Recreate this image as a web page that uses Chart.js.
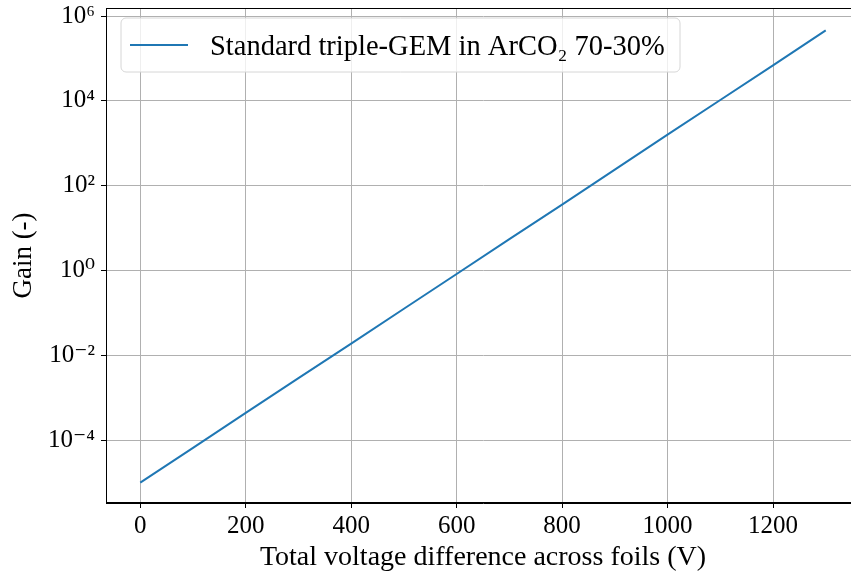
<!DOCTYPE html>
<html>
<head>
<meta charset="utf-8">
<script src="https://cdn.jsdelivr.net/npm/chart.js@4/dist/chart.umd.min.js"></script>
<style>
html,body{margin:0;padding:0;background:#fff;overflow:hidden;width:851px;height:574px;}
#wrap{width:861px;height:574px;position:relative;}
</style>
</head>
<body>
<div id="wrap"><canvas id="c" width="861" height="574"></canvas></div>
<script>
// Data
const voltages = [0, 100, 200, 300, 400, 500, 600, 700, 800, 900, 1000, 1100, 1200, 1300];
const gain = [1.0e-5, 6.6e-5, 4.4e-4, 2.9e-3, 1.9e-2, 0.126, 0.83, 5.5, 36, 240, 1.6e3, 1.05e4, 6.9e4, 4.6e5];
const seriesLabel = 'Standard triple-GEM in ArCO\u2082 70-30%';
const xTickValues = [0, 200, 400, 600, 800, 1000, 1200];
const yTickValues = [1e-4, 1e-2, 1e0, 1e2, 1e4, 1e6];
const yTickLabels = ['10\u207B\u2074', '10\u207B\u00B2', '10\u2070', '10\u00B2', '10\u2074', '10\u2076'];
const xTitle = 'Total voltage difference across foils (V)';
const yTitle = 'Gain (-)';

const FONT = '"Liberation Serif", "DejaVu Serif", serif';
const LINE_COLOR = '#1f77b4';

const framePlugin = {
  id: 'frame',
  afterDraw(chart) {
    const {ctx, chartArea: a} = chart;
    ctx.save();
    ctx.strokeStyle = '#000';
    ctx.lineWidth = 1;
    ctx.strokeRect(a.left + 0.5, a.top + 0.5, a.right - a.left - 1, a.bottom - a.top - 1);
    // legend
    const x0 = a.left + 15, y0 = a.top + 10, w = 559, h = 54, r = 5;
    ctx.beginPath();
    ctx.moveTo(x0 + r, y0);
    ctx.arcTo(x0 + w, y0, x0 + w, y0 + h, r);
    ctx.arcTo(x0 + w, y0 + h, x0, y0 + h, r);
    ctx.arcTo(x0, y0 + h, x0, y0, r);
    ctx.arcTo(x0, y0, x0 + w, y0, r);
    ctx.closePath();
    ctx.fillStyle = 'rgba(255,255,255,0.8)';
    ctx.fill();
    ctx.strokeStyle = '#d6d6d6';
    ctx.lineWidth = 1;
    ctx.stroke();
    const ds = chart.data.datasets[0];
    ctx.strokeStyle = ds.borderColor;
    ctx.lineWidth = 2;
    ctx.beginPath();
    ctx.moveTo(x0 + 9, y0 + 27);
    ctx.lineTo(x0 + 67, y0 + 27);
    ctx.stroke();
    ctx.fillStyle = '#000';
    ctx.font = '28.5px ' + FONT;
    ctx.textBaseline = 'alphabetic';
    ctx.fillText(ds.label, x0 + 89, y0 + 37);
    ctx.restore();
  }
};

new Chart(document.getElementById('c'), {
  type: 'line',
  data: {
    datasets: [{
      label: seriesLabel,
      data: voltages.map((v, i) => ({x: v, y: gain[i]})),
      borderColor: LINE_COLOR,
      borderWidth: 2,
      pointRadius: 0,
      fill: false,
      tension: 0
    }]
  },
  options: {
    responsive: false,
    animation: false,
    devicePixelRatio: 1,
    layout: {padding: {top: 8, right: 1, left: 0, bottom: 0}},
    plugins: {legend: {display: false}, tooltip: {enabled: false}},
    scales: {
      x: {
        type: 'linear',
        min: -65,
        max: 1365,
        afterBuildTicks(scale) { scale.ticks = xTickValues.map(v => ({value: v})); },
        afterFit(scale) { scale.height = 71; scale.paddingLeft = 0; scale.paddingRight = 0; },
        grid: {color: '#b0b0b0', lineWidth: 1, tickColor: '#000', tickLength: 5, drawTicks: true},
        border: {color: '#000', width: 1},
        ticks: {color: '#000', font: {family: FONT, size: 25}, padding: 3, maxRotation: 0,
          callback: v => String(v)},
        title: {display: true, text: xTitle, color: '#000', font: {family: FONT, size: 28}, padding: {top: 0, bottom: 0}}
      },
      y: {
        type: 'logarithmic',
        min: Math.pow(10, -5.48),
        max: Math.pow(10, 6.19),
        afterBuildTicks(scale) { scale.ticks = yTickValues.map(v => ({value: v})); },
        afterFit(scale) { scale.width = 106; scale.paddingTop = 0; scale.paddingBottom = 0; },
        grid: {color: '#b0b0b0', lineWidth: 1, tickColor: '#000', tickLength: 5},
        border: {color: '#000', width: 1},
        ticks: {color: '#000', font: {family: FONT, size: 25}, padding: 6,
          callback: (v) => { const i = yTickValues.indexOf(v); return i >= 0 ? yTickLabels[i] : ''; }},
        title: {display: true, text: yTitle, color: '#000', font: {family: FONT, size: 27}, padding: {top: 8, bottom: 0}}
      }
    }
  },
  plugins: [framePlugin]
});
</script>
</body>
</html>
